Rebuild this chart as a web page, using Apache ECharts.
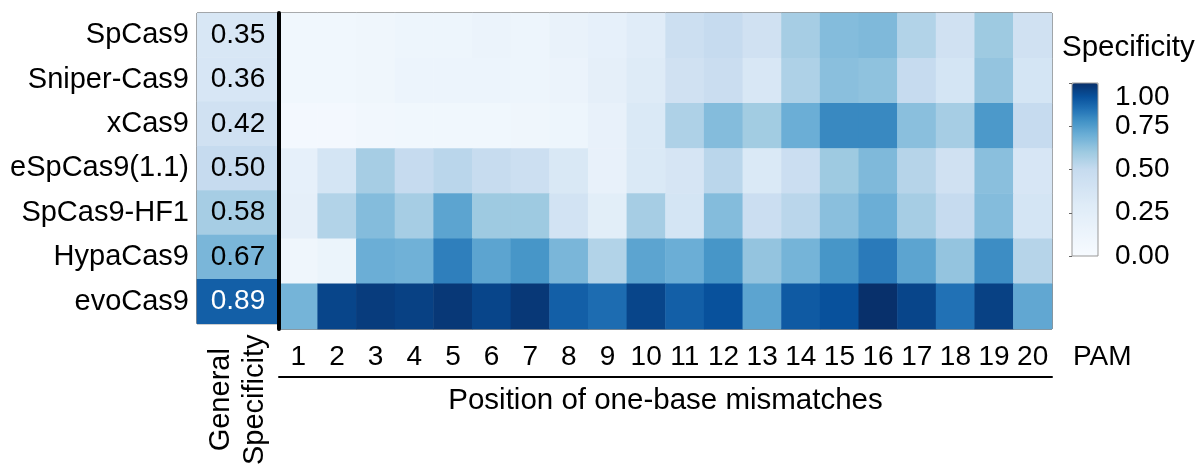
<!DOCTYPE html>
<html>
<head>
<meta charset="utf-8">
<script src="https://cdn.jsdelivr.net/npm/echarts@6/dist/echarts.min.js"></script>
<style>
html,body{margin:0;padding:0;background:#fff;}
#chart{width:1202px;height:468px;}
</style>
</head>
<body>
<div id="chart"></div>
<script>
// ---- data ----
var rowNames = ['SpCas9','Sniper-Cas9','xCas9','eSpCas9(1.1)','SpCas9-HF1','HypaCas9','evoCas9'];
var generalSpecificity = [0.35,0.36,0.42,0.50,0.58,0.67,0.89];
var positionLabels = ['1','2','3','4','5','6','7','8','9','10','11','12','13','14','15','16','17','18','19','20'];
var spcas9  = [0.08,0.08,0.10,0.12,0.12,0.15,0.12,0.17,0.20,0.28,0.45,0.50,0.42,0.58,0.65,0.66,0.55,0.42,0.60,0.42];
var sniper  = [0.08,0.08,0.10,0.13,0.13,0.13,0.12,0.15,0.22,0.30,0.42,0.47,0.35,0.56,0.64,0.63,0.50,0.38,0.62,0.38];
var xcas9   = [0.05,0.05,0.07,0.08,0.08,0.08,0.10,0.12,0.18,0.33,0.56,0.65,0.59,0.70,0.80,0.80,0.64,0.58,0.76,0.50];
var espcas9 = [0.20,0.38,0.58,0.50,0.53,0.49,0.45,0.34,0.18,0.33,0.37,0.53,0.33,0.46,0.60,0.66,0.54,0.42,0.64,0.36];
var hf1     = [0.22,0.55,0.65,0.58,0.73,0.60,0.60,0.40,0.25,0.58,0.38,0.65,0.46,0.53,0.64,0.70,0.58,0.50,0.65,0.38];
var hypa    = [0.10,0.14,0.70,0.69,0.82,0.73,0.77,0.67,0.55,0.73,0.70,0.77,0.62,0.68,0.77,0.83,0.73,0.62,0.79,0.54];
var evo     = [0.68,0.95,0.97,0.96,0.98,0.95,0.98,0.89,0.86,0.95,0.89,0.92,0.73,0.90,0.92,1.00,0.95,0.85,0.96,0.72];

var rowValues = [spcas9, sniper, xcas9, espcas9, hf1, hypa, evo];

// ---- colour ramp (Blues) ----
var stops = [[0,'#f7fbff'],[0.3,'#deebf7'],[0.5,'#c6dbef'],[0.6,'#9ecae1'],[0.7,'#6baed6'],[0.78,'#4292c6'],[0.85,'#2171b5'],[0.92,'#08519c'],[1,'#08306b']];
function hex(c){return [parseInt(c.substr(1,2),16),parseInt(c.substr(3,2),16),parseInt(c.substr(5,2),16)];}
function rampAt(t){
  for (var i=0;i<stops.length-1;i++){
    if (t<=stops[i+1][0]){
      var a=hex(stops[i][1]), b=hex(stops[i+1][1]);
      var f=(t-stops[i][0])/(stops[i+1][0]-stops[i][0]);
      return 'rgb('+[0,1,2].map(function(k){return Math.round(a[k]+(b[k]-a[k])*f);}).join(',')+')';
    }
  }
  return stops[stops.length-1][1];
}
var ramp=[]; for (var i=0;i<=100;i++) ramp.push(rampAt(i/100));

var genData = generalSpecificity.map(function(v,i){
  return {value:[0,i,v], label:{color: v > 0.8 ? '#fff' : '#000'}};
});
var posData = [];
rowValues.forEach(function(arr,r){ arr.forEach(function(v,c){ posData.push([c,r,v]); }); });

var FONT = 'Liberation Sans, Arial, sans-serif';
var FS = 28;

var chart = echarts.init(document.getElementById('chart'), null, {renderer:'canvas'});
chart.setOption({
  backgroundColor:'#fff',
  animation:false,
  textStyle:{fontFamily:FONT, color:'#000'},
  title:{text:'Specificity', left:1062, top:33, padding:0, textStyle:{fontFamily:FONT, fontSize:29.5, fontWeight:'normal', color:'#000'}},
  grid:[
    {left:197, top:13, width:82, height:316, show:true, borderColor:'#222', borderWidth:1, backgroundColor:'transparent'},
    {left:279, top:13, width:773, height:316, show:true, borderColor:'#222', borderWidth:1, backgroundColor:'transparent'},
    {left:1072, top:83, width:26, height:173, show:true, borderColor:'#999', borderWidth:1, backgroundColor:'transparent', z:10}
  ],
  xAxis:[
    {type:'category', gridIndex:0, data:['General\nSpecificity'], axisLine:{show:false}, axisTick:{show:false},
     axisLabel:{rotate:90, align:'center', verticalAlign:'middle', margin:76, fontSize:29, lineHeight:34, color:'#000', fontFamily:FONT}},
    {type:'category', gridIndex:1, data:positionLabels, axisLine:{show:false}, axisTick:{show:false},
     axisLabel:{fontSize:FS, color:'#000', margin:14, fontFamily:FONT, interval:0},
     name:'PAM', nameLocation:'end', nameGap:21,
     nameTextStyle:{fontSize:FS, color:'#000', fontFamily:FONT, verticalAlign:'top', padding:[14,0,0,0]}},
    {type:'category', gridIndex:1, data:positionLabels, position:'bottom', offset:48,
     axisLine:{show:true, lineStyle:{color:'#000', width:2}}, axisTick:{show:false}, axisLabel:{show:false},
     name:'Position of one-base mismatches', nameLocation:'middle', nameGap:9,
     nameTextStyle:{fontSize:29.5, color:'#000', fontFamily:FONT, verticalAlign:'top'}},
    {type:'value', gridIndex:2, show:false, min:0, max:1}
  ],
  yAxis:[
    {type:'category', gridIndex:0, data:rowNames, inverse:true, axisLine:{show:false}, axisTick:{show:false},
     axisLabel:{fontSize:29, color:'#000', margin:8, fontFamily:FONT}},
    {type:'category', gridIndex:1, data:rowNames, inverse:true, position:'left', z:10,
     axisLine:{show:true, lineStyle:{color:'#000', width:4}}, axisTick:{show:false}, axisLabel:{show:false}},
    {type:'value', gridIndex:2, min:0, max:1, interval:0.25, position:'right', z:10,
     axisLine:{show:false}, splitLine:{show:false},
     axisTick:{show:true, inside:true, length:3, lineStyle:{color:'#666'}},
     axisLabel:{fontSize:FS, color:'#000', margin:17, fontFamily:FONT, verticalAlignMaxLabel:'top',
       formatter:function(v){return v.toFixed(2);}}}
  ],
  visualMap:{
    type:'continuous', min:0, max:1, calculable:false, show:true,
    left:1072, top:83, itemWidth:26, itemHeight:173, padding:0,
    text:null, showLabel:false, hoverLink:false,
    inRange:{color:ramp}, seriesIndex:[0,1]
  },
  series:[
    {type:'heatmap', xAxisIndex:0, yAxisIndex:0, data:genData,
     label:{show:true, fontSize:FS, fontFamily:FONT,
       formatter:function(p){return p.value[2].toFixed(2);}},
     itemStyle:{borderWidth:0},
     emphasis:{disabled:true}},
    {type:'heatmap', xAxisIndex:1, yAxisIndex:1, data:posData, itemStyle:{borderWidth:0}, emphasis:{disabled:true}}
  ]
});
</script>
</body>
</html>
